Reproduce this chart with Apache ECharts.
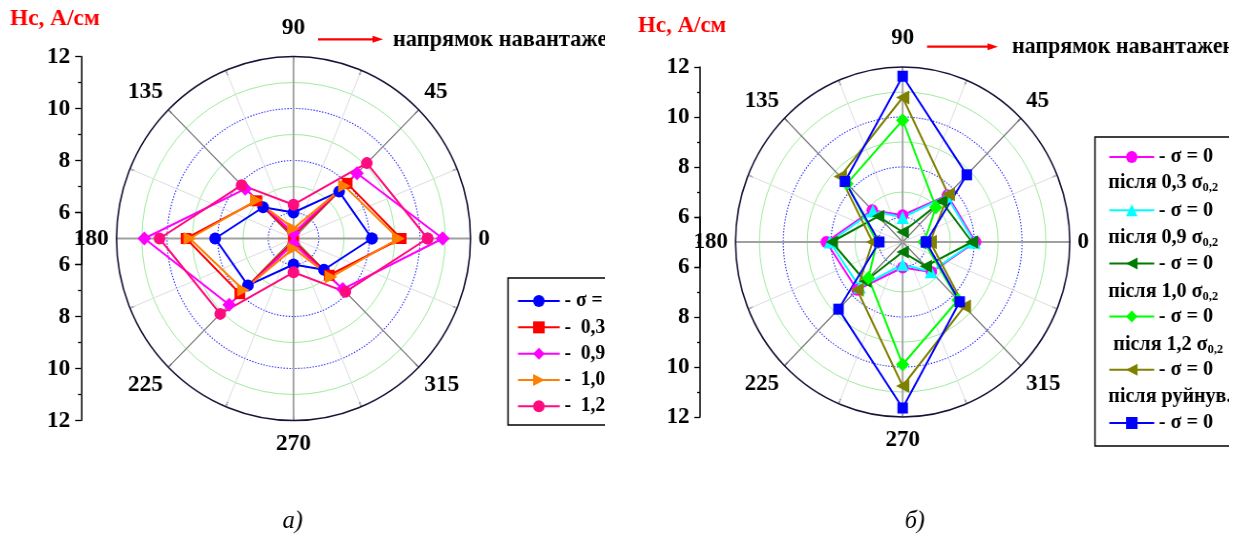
<!DOCTYPE html>
<html>
<head>
<meta charset="utf-8">
<script src="https://cdn.jsdelivr.net/npm/echarts@6/dist/echarts.min.js"></script>
<style>
html, body { margin: 0; padding: 0; background: #fff; width: 1237px; height: 538px; overflow: hidden; }
.panel { position: absolute; top: 0; height: 538px; transform-origin: 0 0; overflow: hidden; }
</style>
</head>
<body>
<div id="panelA" class="panel" style="left:0;width:622px;transform:scaleX(0.9725)"></div>
<div id="panelB" class="panel" style="left:615px;width:643px;transform:scaleX(0.955)"></div>
<script>
const FONT = '"Liberation Serif", "Times New Roman", serif';

// measurement directions, degrees (0 = loading direction)
const angles = [0, 45, 90, 135, 180, 225, 270, 315];
const angleLabels = ['0', '45', '90', '135', '180', '225', '270', '315'];
const radialLabels = [6, 8, 10, 12];

// а) coercive force Hc, A/cm, under load (fraction of σ0,2)
const hcLoad0  = [8.1, 7.55, 6.0, 6.7, 8.1, 7.55, 6.0, 6.7];
const hcLoad03 = [9.25, 8.0, 5.1, 7.05, 9.25, 8.0, 5.1, 7.0];
const hcLoad09 = [10.9, 8.55, 5.2, 7.7, 10.9, 8.6, 5.2, 7.75];
const hcLoad10 = [9.15, 7.85, 5.38, 7.08, 9.1, 7.8, 5.38, 7.1];
const hcLoad12 = [10.3, 9.1, 6.3, 7.9, 10.3, 9.1, 6.3, 7.9];
const loadNames = ['σ = 0', '0,3 σ0,2', '0,9 σ0,2', '1,0 σ0,2', '1,2 σ0,2'];

// б) Hc, A/cm, at σ = 0 after unloading
const hcAfter03 = [8.05, 7.65, 6.07, 6.8, 8.2, 7.7, 6.02, 6.7];
const hcAfter09 = [8.0, 7.6, 5.98, 6.76, 8.05, 7.55, 5.9, 6.68];
const hcAfter10 = [7.9, 7.3, 5.4, 6.45, 7.97, 7.22, 5.4, 6.37];
const hcAfter12 = [5.9, 6.97, 9.87, 8.3, 6.08, 7.03, 9.9, 8.28];
const hcAfterFail = [6.15, 7.7, 10.78, 8.7, 6.26, 7.7, 10.76, 8.65];
const hcFinal = [5.98, 8.8, 11.63, 8.42, 5.98, 8.8, 11.64, 8.38];
const afterNames = ['після 0,3 σ0,2', 'після 0,9 σ0,2', 'після 1,0 σ0,2', 'після 1,2 σ0,2', 'після руйнув.', 'σ = 0'];
const afterLines = ['після 0,3 σ{s|0,2}', 'після 0,9 σ{s|0,2}', 'після 1,0 σ{s|0,2}', ' після 1,2 σ{s|0,2}', 'після руйнув.'];
const afterLineY = [183, 238, 292, 345, 397];

const boldText = (size) => ({ fontFamily: FONT, fontWeight: 'bold', fontSize: size, color: '#000' });
const subStyle = (size) => ({ fontFamily: FONT, fontWeight: 'bold', fontSize: size, padding: [9, 0, 0, 0] });

function radialAxis(gridIndex, inverse) {
  return {
    gridIndex, type: 'value', min: 4, max: 12, interval: 2, inverse,
    axisLine: { show: true, onZero: false, lineStyle: { color: '#000', width: 1.5 } },
    axisTick: { show: true, length: 6, lineStyle: { color: '#000', width: 1.3 } },
    minorTick: { show: true, splitNumber: 2, length: 3, lineStyle: { color: '#000', width: 1.3 } },
    splitLine: { show: false },
    axisLabel: Object.assign(boldText(24), {
      margin: 11,
      formatter: v => radialLabels.includes(v) ? String(v) : ''
    })
  };
}

function lineSeries(name, values, color, symbol, size, rotate) {
  return {
    type: 'line', name, coordinateSystem: 'polar', polarIndex: 0,
    data: angles.map((a, i) => [values[i], a]).concat([[values[0], 360]]),
    symbol, symbolSize: size, symbolRotate: rotate || 0,
    lineStyle: { color, width: 2 },
    itemStyle: { color },
    z: 3
  };
}

function arrowGraphic(x1, x2, y) {
  return [
    { type: 'line', z: 100, shape: { x1, y1: y, x2: x2 - 8, y2: y }, style: { stroke: '#ff0000', lineWidth: 2.2 } },
    { type: 'polygon', z: 100, shape: { points: [[x2, y], [x2 - 11, y - 3.5], [x2 - 11, y + 3.5]] }, style: { fill: '#ff0000' } }
  ];
}

function textGraphic(text, x, y, font, fill, align, rich) {
  return {
    type: 'text', z: 100, x, y,
    style: { text, font, fill, align: align || 'left', verticalAlign: 'middle',
             textAlign: align || 'left', textVerticalAlign: 'middle', rich: rich || {} }
  };
}

function buildOption(cfg) {
  const { cx, cy, unit, axisX } = cfg;
  const r = 7 * unit;
  const clear = 'rgba(0,0,0,0)';
  const labelRich = {
    t: Object.assign(boldText(24), { padding: [0, 0, 9, 0] }),
    b: Object.assign(boldText(24), { padding: [3, 0, 0, 0] })
  };
  return {
    animation: false,
    backgroundColor: '#fff',
    grid: [
      { left: axisX, top: cy - 7 * unit, height: 8 * unit, width: 20 },
      { left: axisX, top: cy - unit, height: 8 * unit, width: 20 }
    ],
    xAxis: [{ gridIndex: 0, show: false }, { gridIndex: 1, show: false }],
    yAxis: [radialAxis(0, false), radialAxis(1, true)],
    polar: [
      { center: [cx, cy], radius: r },
      { center: [cx, cy], radius: r },
      { center: [cx, cy], radius: r }
    ],
    angleAxis: [
      {
        polarIndex: 0, type: 'value', min: 0, max: 360, interval: 22.5, startAngle: 0, clockwise: false,
        axisLine: { lineStyle: { color: '#141438', width: 1.6 } },
        axisTick: { show: true, inside: true, length: 5, lineStyle: { color: '#141438', width: 1.2 } },
        axisLabel: Object.assign(boldText(24), {
          margin: 8, rich: labelRich,
          formatter: v => {
            const i = angles.indexOf(v);
            if (i < 0) return '';
            if (v === 90) return '{t|' + angleLabels[i] + '}';
            if (v === 270) return '{b|' + angleLabels[i] + '}';
            return angleLabels[i];
          }
        }),
        splitLine: { show: true, lineStyle: { color: '#dedede', width: 1 } }
      },
      {
        polarIndex: 1, type: 'value', min: 0, max: 360, interval: 45, startAngle: 0, clockwise: false,
        axisLine: { show: false }, axisTick: { show: false }, axisLabel: { show: false },
        splitLine: { show: true, lineStyle: { color: [clear, '#777777'], width: 1.1 } }
      },
      {
        polarIndex: 2, type: 'value', min: 0, max: 360, interval: 90, startAngle: 0, clockwise: false,
        axisLine: { show: false }, axisTick: { show: false }, axisLabel: { show: false },
        splitLine: { show: true, lineStyle: { color: '#a0a0a0', width: 1.8 } }
      }
    ],
    radiusAxis: [
      {
        polarIndex: 0, type: 'value', min: 5, max: 12, interval: 1,
        axisLine: { show: false }, axisTick: { show: false }, axisLabel: { show: false },
        splitLine: { show: true, lineStyle: { color: [clear, '#2a2aff', clear, '#2a2aff', clear, '#2a2aff', clear, clear], type: [1.4, 1.6], width: 1.1 } }
      },
      {
        polarIndex: 1, type: 'value', min: 5, max: 12, interval: 1,
        axisLine: { show: false }, axisTick: { show: false }, axisLabel: { show: false },
        splitLine: { show: true, lineStyle: { color: [clear, clear, '#9eec9e', clear, '#9eec9e', clear, '#9eec9e', clear], width: 1 } }
      },
      {
        polarIndex: 2, type: 'value', min: 5, max: 12, interval: 1,
        axisLine: { show: false }, axisTick: { show: false }, axisLabel: { show: false },
        splitLine: { show: false }
      }
    ],
    legend: cfg.legend,
    series: cfg.series,
    graphic: cfg.graphic
  };
}

const titleFont = 'bold 24px ' + FONT;
const noteFont = 'bold 23px ' + FONT;
const captionFont = 'italic 25px ' + FONT;

// а) under load
const optionA = buildOption({
  cx: 301.8, cy: 238.5, unit: 26, axisX: 83.3,
  series: [
    lineSeries(loadNames[0], hcLoad0, '#0000ff', 'circle', 12),
    lineSeries(loadNames[1], hcLoad03, '#ff0000', 'rect', 11),
    lineSeries(loadNames[2], hcLoad09, '#ff00ff', 'diamond', 14),
    lineSeries(loadNames[3], hcLoad10, '#ff8000', 'triangle', 13, -90),
    lineSeries(loadNames[4], hcLoad12, '#ff0a7f', 'circle', 12)
  ],
  legend: {
    orient: 'vertical', left: 522.4, top: 278,
    padding: [9.9, 12, 5.6, 9.2],
    itemWidth: 43, itemHeight: 15, itemGap: 0,
    backgroundColor: '#fff', borderColor: '#000', borderWidth: 1.5,
    textStyle: Object.assign(boldText(20), { lineHeight: 26.3, rich: { s: subStyle(13) } }),
    formatter: name => name === loadNames[0] ? '- ' + name : '-  ' + name.replace('σ0,2', 'σ{s|0,2}'),
    data: loadNames
  },
  graphic: [
    textGraphic('Hc, А/см', 10.3, 18.5, titleFont, '#ff0000'),
    ...arrowGraphic(327, 394, 39.3),
    textGraphic('напрямок навантаження', 404, 40, noteFont, '#000'),
    textGraphic('а)', 301, 521, captionFont, '#000', 'center')
  ]
});

// б) after unloading
const optionB = buildOption({
  cx: 301.2, cy: 242, unit: 25, axisX: 89,
  series: [
    lineSeries(afterNames[0], hcAfter03, '#ff00ff', 'circle', 12),
    lineSeries(afterNames[1], hcAfter09, '#00ffff', 'triangle', 13),
    lineSeries(afterNames[2], hcAfter10, '#007a00', 'triangle', 13, 90),
    lineSeries(afterNames[3], hcAfter12, '#00ff00', 'diamond', 14),
    lineSeries(afterNames[4], hcAfterFail, '#808000', 'triangle', 14, 90),
    lineSeries(afterNames[5], hcFinal, '#0000ff', 'rect', 11)
  ],
  legend: {
    orient: 'vertical', left: 502.6, top: 137,
    padding: [6.7, 30, 9.7, 14],
    itemWidth: 47, itemHeight: 15, itemGap: 26.6,
    backgroundColor: '#fff', borderColor: '#000', borderWidth: 1.5,
    textStyle: Object.assign(boldText(21), { lineHeight: 26.6 }),
    formatter: () => '- σ = 0',
    data: afterNames
  },
  graphic: [
    textGraphic('Hc, А/см', 24.1, 26, titleFont, '#ff0000'),
    ...arrowGraphic(326.7, 401, 46.7),
    textGraphic('напрямок навантаження', 415.7, 47, noteFont, '#000'),
    ...afterLines.map((t, i) => textGraphic(t, 516.6, afterLineY[i], 'bold 21px ' + FONT, '#000', 'left',
      { s: subStyle(13) })),
    textGraphic('б)', 314, 521, captionFont, '#000', 'center')
  ]
});

echarts.init(document.getElementById('panelA'), null, { renderer: 'canvas' }).setOption(optionA);
echarts.init(document.getElementById('panelB'), null, { renderer: 'canvas' }).setOption(optionB);
</script>
</body>
</html>
